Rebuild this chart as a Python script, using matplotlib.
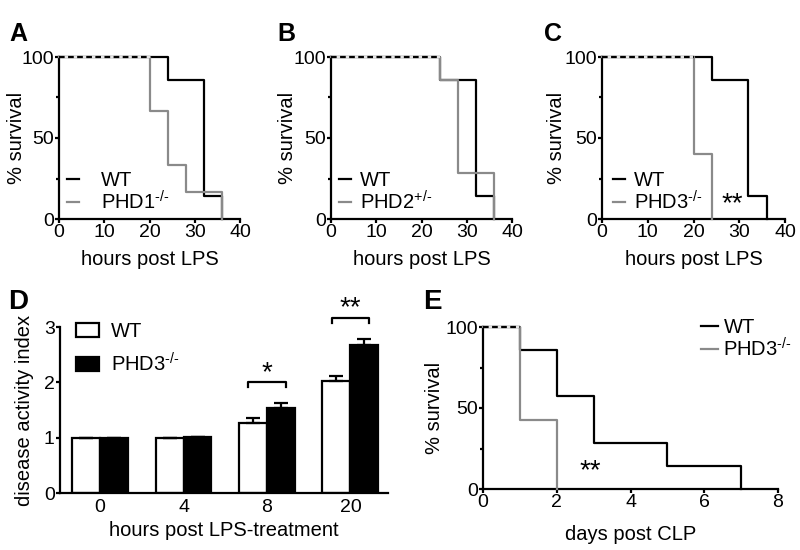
import matplotlib
matplotlib.use('Agg')
import matplotlib.pyplot as plt
from matplotlib.lines import Line2D
from matplotlib.patches import Patch
import numpy as np

# ---------------- data ----------------
# Kaplan-Meier survival (time, % survival)
a_wt_t = [0, 24, 32, 36]
a_wt_s = [100, 85.7, 14.3, 0]
a_ko_t = [0, 20, 24, 28, 36]
a_ko_s = [100, 66.7, 33.3, 16.7, 0]

b_wt_t = [0, 24, 32, 36]
b_wt_s = [100, 85.7, 14.3, 0]
b_ko_t = [0, 24, 28, 36]
b_ko_s = [100, 85.7, 28.6, 0]

c_wt_t = [0, 24, 32, 36]
c_wt_s = [100, 85.7, 14.3, 0]
c_ko_t = [0, 20, 24]
c_ko_s = [100, 40, 0]

e_wt_t = [0, 1, 2, 3, 5, 7]
e_wt_s = [100, 85.7, 57.1, 28.6, 14.3, 0]
e_ko_t = [0, 1, 2]
e_ko_s = [100, 42.9, 0]

# Disease activity index
d_groups = ['0', '4', '8', '20']
d_wt = [1.0, 1.0, 1.26, 2.02]
d_wt_err = [0.0, 0.0, 0.10, 0.10]
d_ko = [1.0, 1.02, 1.53, 2.67]
d_ko_err = [0.0, 0.0, 0.09, 0.12]
d_sig = {2: '*', 3: '**'}

ko_labels = {'A': r'PHD1$^{\text{-/-}}$', 'B': r'PHD2$^{\text{+/-}}$',
             'C': r'PHD3$^{\text{-/-}}$', 'E': r'PHD3$^{\text{-/-}}$'}

# ---------------- style ----------------
GRAY = '#8a8a8a'
LW = 1.6
FS = 14.5
TFS = 14
LFS = 14.5
plt.rcParams.update({
    'font.family': ['Liberation Sans', 'DejaVu Sans'],
    'mathtext.fontset': 'custom',
    'mathtext.rm': 'Liberation Sans',
    'mathtext.default': 'regular',
    'font.size': FS,
    'axes.linewidth': LW,
    'xtick.major.width': LW, 'ytick.major.width': LW,
    'ytick.minor.width': LW,
    'xtick.major.size': 3.2, 'ytick.major.size': 3,
    'ytick.minor.size': 2,
    'xtick.major.pad': 0.6, 'ytick.major.pad': 0.8,
    'xtick.labelsize': TFS, 'ytick.labelsize': TFS,
})

W, H = 800, 550
fig = plt.figure(figsize=(W / 100, H / 100), dpi=100)


def px_axes(l, t, r, b):
    return fig.add_axes([l / W, 1 - b / H, (r - l) / W, (b - t) / H])


def clean(ax):
    for s in ('top', 'right'):
        ax.spines[s].set_visible(False)


def place_labels(ax, ylab, xlab, ybase_x, xbase_y):
    ax.set_ylabel(ylab, fontsize=FS)
    ax.set_xlabel(xlab, fontsize=FS)
    ax.yaxis.label.set_va('baseline')
    ax.xaxis.label.set_va('baseline')
    ax.yaxis.set_label_coords(ybase_x, 0.5)
    ax.xaxis.set_label_coords(0.5, xbase_y)


def km(ax, wt_t, wt_s, ko_t, ko_s, ko_label, xmax, xticks, leg_xy,
       hlen=0.6, htp=0.45):
    ax.step(wt_t, wt_s, where='post', color='black', lw=LW, clip_on=False, zorder=3)
    ax.step(ko_t, ko_s, where='post', color=GRAY, lw=LW, clip_on=False, zorder=4)
    common = min(wt_t[1], ko_t[1])
    ax.plot([wt_t[0], common], [wt_s[0], ko_s[0]], color='black', lw=LW,
            ls=(0, (2.5, 1.6)), gapcolor='#e4e4e4', clip_on=False, zorder=5)
    ax.set_xlim(0, xmax)
    ax.set_ylim(0, 100)
    ax.set_xticks(xticks)
    ax.set_yticks([0, 50, 100])
    ax.set_yticks([25, 75], minor=True)
    clean(ax)
    handles = [Line2D([], [], color='black', lw=LW), Line2D([], [], color=GRAY, lw=LW)]
    ax.legend(handles, ['WT', ko_label], loc='center left', bbox_to_anchor=leg_xy,
              frameon=False, fontsize=LFS, handlelength=hlen, handletextpad=htp,
              labelspacing=0.0, borderpad=0, borderaxespad=0)


XLB = -0.283   # x-label baseline (axes fraction) for panels A-C

# Panels A, B, C
axA = px_axes(59, 57, 240, 219)
km(axA, a_wt_t, a_wt_s, a_ko_t, a_ko_s, ko_labels['A'], 40, [0, 10, 20, 30, 40],
   (0.045, 0.165), hlen=0.6, htp=1.1)
place_labels(axA, '% survival', 'hours post LPS', -0.204, XLB)

axB = px_axes(331, 57, 512, 219)
km(axB, b_wt_t, b_wt_s, b_ko_t, b_ko_s, ko_labels['B'], 40, [0, 10, 20, 30, 40],
   (0.045, 0.165))
place_labels(axB, '% survival', 'hours post LPS', -0.21, XLB)

axC = px_axes(602, 57, 785, 219)
km(axC, c_wt_t, c_wt_s, c_ko_t, c_ko_s, ko_labels['C'], 40, [0, 10, 20, 30, 40],
   (0.06, 0.165))
place_labels(axC, '% survival', 'hours post LPS', -0.219, XLB)
axC.text(28.5, 9, '**', ha='center', va='center', fontsize=20)

# Panel D
axD = px_axes(60, 327, 388, 493)
x = np.arange(len(d_groups))
w = 0.335
axD.bar(x - w / 2, d_wt, w, color='white', edgecolor='black', lw=LW, zorder=2,
        yerr=[np.zeros(len(d_wt)), d_wt_err], capsize=5,
        error_kw=dict(elinewidth=LW, capthick=LW, ecolor='black'))
axD.bar(x + w / 2, d_ko, w, color='black', edgecolor='black', lw=LW, zorder=2,
        yerr=[np.zeros(len(d_ko)), d_ko_err], capsize=5,
        error_kw=dict(elinewidth=LW, capthick=LW, ecolor='black'))
axD.set_xlim(-0.48, 3.45)
axD.set_ylim(0, 3)
axD.set_yticks([0, 1, 2, 3])
axD.set_xticks(x)
axD.set_xticklabels(d_groups)
axD.tick_params(axis='x', length=0, pad=4)
place_labels(axD, 'disease activity index', 'hours post LPS-treatment', -0.09, -0.26)
clean(axD)
for gi, stars in d_sig.items():
    top = max(d_wt[gi] + d_wt_err[gi], d_ko[gi] + d_ko_err[gi])
    yb = top + 0.38
    xl, xr = gi - 0.225, gi + 0.225
    axD.plot([xl, xl, xr, xr], [yb - 0.09, yb, yb, yb - 0.09], color='black', lw=LW,
             clip_on=False)
    axD.text(gi, yb + 0.17, stars, ha='center', va='center', fontsize=20, clip_on=False)
hD = [Patch(facecolor='white', edgecolor='black', lw=LW),
      Patch(facecolor='black', edgecolor='black', lw=LW)]
axD.legend(hD, ['WT', ko_labels['C']], loc='center left', bbox_to_anchor=(0.05, 0.87),
           frameon=False, fontsize=LFS, handlelength=1.1, handleheight=0.65,
           handletextpad=0.6, labelspacing=0.55, borderpad=0, borderaxespad=0)

# Panel E
axE = px_axes(483, 327, 778, 489)
km(axE, e_wt_t, e_wt_s, e_ko_t, e_ko_s, ko_labels['E'], 8, [0, 2, 4, 6, 8], (0.74, 0.925),
   hlen=0.85, htp=0.25)
place_labels(axE, '% survival', 'days post CLP', -0.146, -0.315)
axE.text(2.9, 11, '**', ha='center', va='center', fontsize=20)

# Panel letters
for lab, px, py, fs in [('A', 9, 22, 18), ('B', 277, 22, 18), ('C', 544, 22, 18),
                        ('D', 8, 289, 20), ('E', 423, 289, 20)]:
    fig.text(px / W, 1 - py / H, lab, fontsize=fs, fontweight='bold', va='top', ha='left')

fig.savefig('out.png', dpi=100)
